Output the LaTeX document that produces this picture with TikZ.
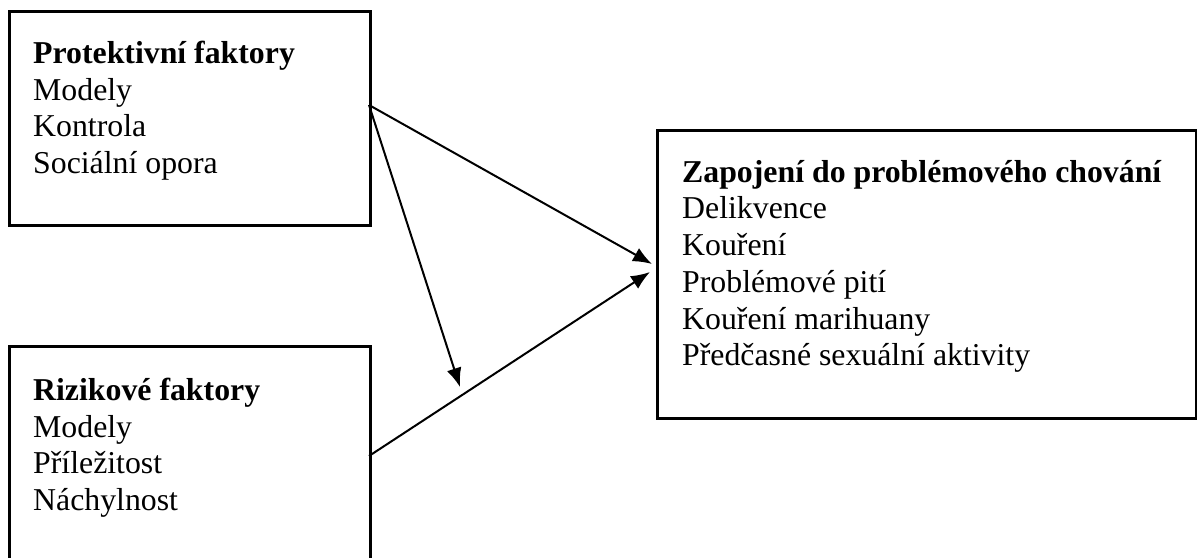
\documentclass[tikz,border=0pt]{standalone}
\usepackage{fontspec}
\setmainfont{Liberation Serif}
\usetikzlibrary{arrows.meta}
\begin{document}
\begin{tikzpicture}[x=1pt,y=-1pt,
 box/.style={draw, line width=3pt, inner sep=0pt, anchor=north west},
 txt/.style={anchor=north west, align=left, inner sep=0pt, font=\fontsize{31.8}{36.7}\selectfont},
 conn/.style={line width=2pt, -{Latex[length=19pt,width=15pt]}}]
\clip (0,0) rectangle (1197,557);
\node[box, minimum width=361pt, minimum height=214pt] (prot) at (8,10) {};
\node[box, minimum width=361pt, minimum height=240pt] (riz) at (8,345) {};
\node[box, minimum width=539pt, minimum height=288pt] (zap) at (656,129) {};
\node[txt] (protT) at (33,41) {\textbf{Protektivní faktory}\\Modely\\Kontrola\\Sociální opora};
\node[txt] (rizT) at (33,378) {\textbf{Rizikové faktory}\\Modely\\Příležitost\\Náchylnost};
\node[txt] (zapT) at (682,160) {\textbf{Zapojení do problémového chování}\\Delikvence\\Kouření\\Problémové pití\\Kouření marihuany\\Předčasné sexuální aktivity};
\coordinate (s1) at (369,105);
\coordinate (s2) at (369,456);
\coordinate (t1) at (652,264);
\coordinate (t2) at (650,272);
\coordinate (m) at (460,387);
\draw[conn] (s1) -- (t1);
\draw[conn] (s2) -- (t2);
\draw[conn] (s1) -- (m);
\end{tikzpicture}
\end{document}
